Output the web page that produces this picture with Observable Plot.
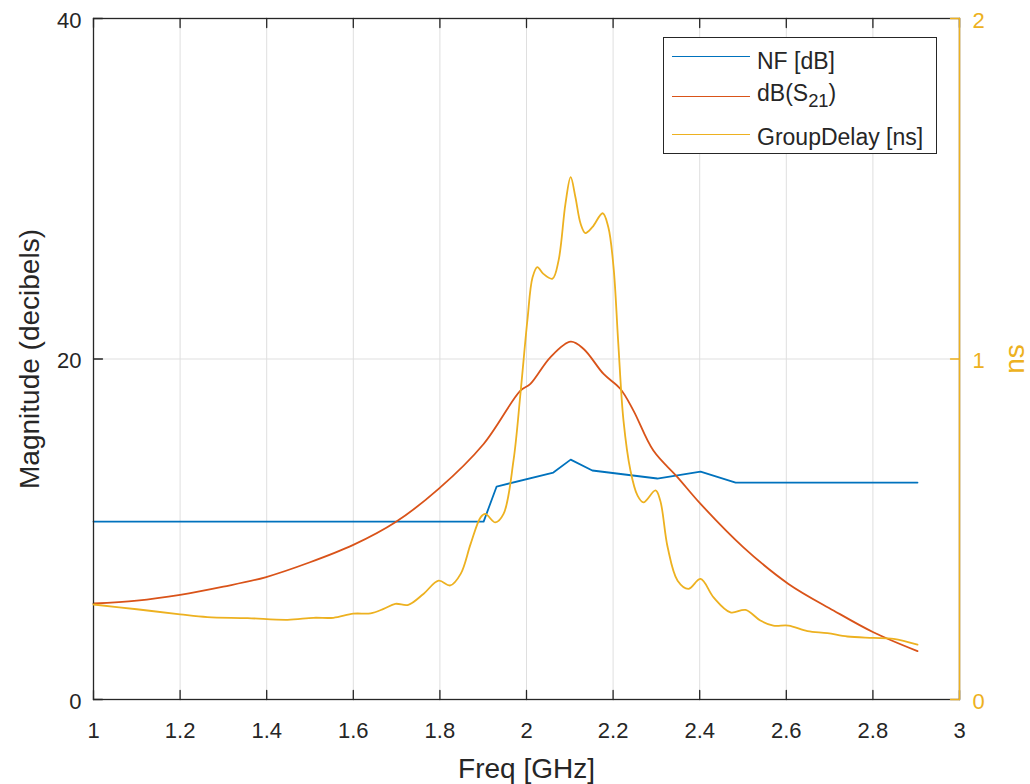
<!DOCTYPE html>
<html><head><meta charset="utf-8">
<script src="https://cdn.jsdelivr.net/npm/d3@7"></script>
<script src="https://cdn.jsdelivr.net/npm/@observablehq/plot@0.6"></script>
<style>
html,body{margin:0;padding:0;background:#fff;}
#chart{position:relative;width:1030px;height:784px;font-family:"Liberation Sans",Arial,sans-serif;}
#chart svg{position:absolute;left:0;top:0;}
.legend{position:absolute;left:663px;top:37px;width:272px;height:115px;border:1.3px solid #262626;background:#fff;font-size:23px;color:#262626;}
.legend .sw{position:absolute;left:8px;width:78px;height:0;border-top:1.6px solid;}
.legend .tx{position:absolute;left:93px;line-height:26px;height:26px;white-space:nowrap;}
.legend sub{font-size:0.8em;vertical-align:-0.35em;line-height:0;}
</style></head>
<body><div id="chart"></div>
<script>
// ---- data ----
const xTicks = [1, 1.2, 1.4, 1.6, 1.8, 2, 2.2, 2.4, 2.6, 2.8, 3];
const yLeftTicks = [0, 20, 40];
const yRightTicks = [0, 1, 2];
const xLabel = "Freq [GHz]";
const yLeftLabel = "Magnitude (decibels)";
const yRightLabel = "ns";
const seriesNames = ["NF [dB]", "dB(S<sub>21</sub>)", "GroupDelay [ns]"];

const nfFreq = [1.000, 1.901, 1.931, 2.062, 2.102, 2.152, 2.302, 2.402, 2.483, 2.903];
const nfDb   = [10.45, 10.45, 12.51, 13.33, 14.09, 13.45, 12.98, 13.39, 12.74, 12.74];

const s21Freq = [1.000, 1.100, 1.200, 1.300, 1.397, 1.500, 1.600, 1.697, 1.797, 1.901, 1.986, 2.009, 2.055, 2.102, 2.132, 2.178, 2.217, 2.247, 2.293, 2.349, 2.402, 2.501, 2.605, 2.709, 2.801, 2.903];
const s21Db   = [5.64, 5.81, 6.15, 6.63, 7.18, 8.06, 9.08, 10.41, 12.37, 15.01, 18.14, 18.54, 20.10, 21.02, 20.59, 19.12, 18.24, 16.97, 14.62, 13.05, 11.49, 8.94, 6.79, 5.23, 3.95, 2.84];

const gdFreq = [1.000, 1.100, 1.200, 1.263, 1.356, 1.448, 1.508, 1.554, 1.600, 1.640, 1.670, 1.697, 1.727, 1.762, 1.797, 1.824, 1.848, 1.871, 1.894, 1.905, 1.928, 1.947, 1.970, 1.986, 2.002, 2.014, 2.025, 2.039, 2.060, 2.074, 2.090, 2.102, 2.113, 2.125, 2.136, 2.152, 2.176, 2.189, 2.201, 2.212, 2.224, 2.240, 2.256, 2.270, 2.298, 2.309, 2.326, 2.349, 2.374, 2.402, 2.432, 2.471, 2.506, 2.540, 2.570, 2.605, 2.649, 2.695, 2.741, 2.801, 2.848, 2.903];
const gdNs   = [0.279, 0.265, 0.250, 0.242, 0.239, 0.234, 0.240, 0.240, 0.252, 0.253, 0.266, 0.281, 0.278, 0.310, 0.349, 0.335, 0.369, 0.457, 0.535, 0.545, 0.520, 0.545, 0.702, 0.898, 1.113, 1.240, 1.270, 1.250, 1.236, 1.289, 1.456, 1.534, 1.475, 1.397, 1.370, 1.387, 1.428, 1.387, 1.270, 1.045, 0.819, 0.673, 0.600, 0.579, 0.614, 0.584, 0.447, 0.349, 0.325, 0.354, 0.300, 0.256, 0.263, 0.232, 0.217, 0.217, 0.201, 0.195, 0.185, 0.181, 0.178, 0.161];

// ---- style ----
const W = 1030, H = 784, mL = 93, mR = 71, mT = 18, mB = 85;
const dark = "#262626", gridC = "#dfdfdf";
const blue = "#0072BD", red = "#D95319", yellow = "#EDB120";
const font = '"Liberation Sans", Arial, sans-serif';

const nf = nfFreq.map((f, i) => ({f, v: nfDb[i]}));
const s21 = s21Freq.map((f, i) => ({f, v: s21Db[i]}));
const gd = gdFreq.map((f, i) => ({f, v: gdNs[i]}));

const common = {width: W, height: H, marginLeft: mL, marginRight: mR, marginTop: mT, marginBottom: mB};

const p1 = Plot.plot({
  ...common,
  style: {fontFamily: font, fontSize: "22px", color: dark, background: "transparent", overflow: "visible"},
  x: {domain: [xTicks[0], xTicks[xTicks.length - 1]]},
  y: {domain: [yLeftTicks[0], yLeftTicks[yLeftTicks.length - 1]]},
  marks: [
    Plot.gridX(xTicks, {stroke: gridC, strokeOpacity: 1, strokeWidth: 1}),
    Plot.gridY(yLeftTicks, {stroke: gridC, strokeOpacity: 1, strokeWidth: 1}),
    Plot.line(nf, {x: "f", y: "v", stroke: blue, strokeWidth: 1.8}),
    Plot.line(s21, {x: "f", y: "v", stroke: red, strokeWidth: 1.8, curve: "catmull-rom"}),
    Plot.frame({stroke: dark, strokeWidth: 1.3}),
    Plot.axisX(xTicks, {tickSize: 0, tickPadding: 23, tickFormat: d => String(d), label: null, color: dark}),
    Plot.axisY(yLeftTicks, {tickSize: 0, tickPadding: 12, tickFormat: d => String(d), label: null, dy: 2, color: dark}),
    Plot.vector(xTicks, {x: d => d, frameAnchor: "bottom", length: 9, rotate: 0, anchor: "start", r: 0, stroke: dark, strokeWidth: 1.3}),
    Plot.vector(xTicks, {x: d => d, frameAnchor: "top", length: 9, rotate: 180, anchor: "start", r: 0, stroke: dark, strokeWidth: 1.3}),
    Plot.vector(yLeftTicks, {y: d => d, frameAnchor: "left", length: 9, rotate: 90, anchor: "start", r: 0, stroke: dark, strokeWidth: 1.3}),
    Plot.text([xLabel], {frameAnchor: "bottom", dy: 70, text: d => d, fontSize: 28, fill: dark, lineAnchor: "middle", textAnchor: "middle"}),
    Plot.text([yLeftLabel], {frameAnchor: "left", dx: -63, rotate: -90, text: d => d, fontSize: 28, fill: dark, lineAnchor: "middle", textAnchor: "middle"})
  ]
});

const p2 = Plot.plot({
  ...common,
  style: {fontFamily: font, fontSize: "22px", color: yellow, background: "transparent", overflow: "visible"},
  x: {domain: [xTicks[0], xTicks[xTicks.length - 1]], axis: null},
  y: {domain: [yRightTicks[0], yRightTicks[yRightTicks.length - 1]]},
  marks: [
    Plot.line(gd, {x: "f", y: "v", stroke: yellow, strokeWidth: 1.8, curve: "catmull-rom"}),
    Plot.ruleX([xTicks[xTicks.length - 1]], {stroke: yellow, strokeWidth: 1.4}),
    Plot.axisY(yRightTicks, {anchor: "right", tickSize: 0, tickPadding: 13, tickFormat: d => String(d), label: null, dy: 2, color: yellow}),
    Plot.vector(yRightTicks, {y: d => d, frameAnchor: "right", length: 9, rotate: -90, anchor: "start", r: 0, stroke: yellow, strokeWidth: 1.3}),
    Plot.text([yRightLabel], {frameAnchor: "right", dx: 56, rotate: -90, text: d => d, fontSize: 28, fill: yellow, lineAnchor: "middle", textAnchor: "middle"})
  ]
});

const chart = document.getElementById("chart");
chart.appendChild(p1);
chart.appendChild(p2);

// ---- legend ----
const legendColors = [blue, red, yellow];
const lineYs = [19, 59, 97];   // swatch offsets inside the box
const textYs = [23, 55, 99];   // text centres inside the box
const lg = document.createElement("div");
lg.className = "legend";
seriesNames.forEach((name, i) => {
  const sw = document.createElement("div");
  sw.className = "sw";
  sw.style.borderTopColor = legendColors[i];
  sw.style.top = (lineYs[i] - 1) + "px";
  lg.appendChild(sw);
  const tx = document.createElement("div");
  tx.className = "tx";
  tx.innerHTML = name;
  tx.style.top = (textYs[i] - 13) + "px";
  lg.appendChild(tx);
});
chart.appendChild(lg);
</script>
</body></html>
